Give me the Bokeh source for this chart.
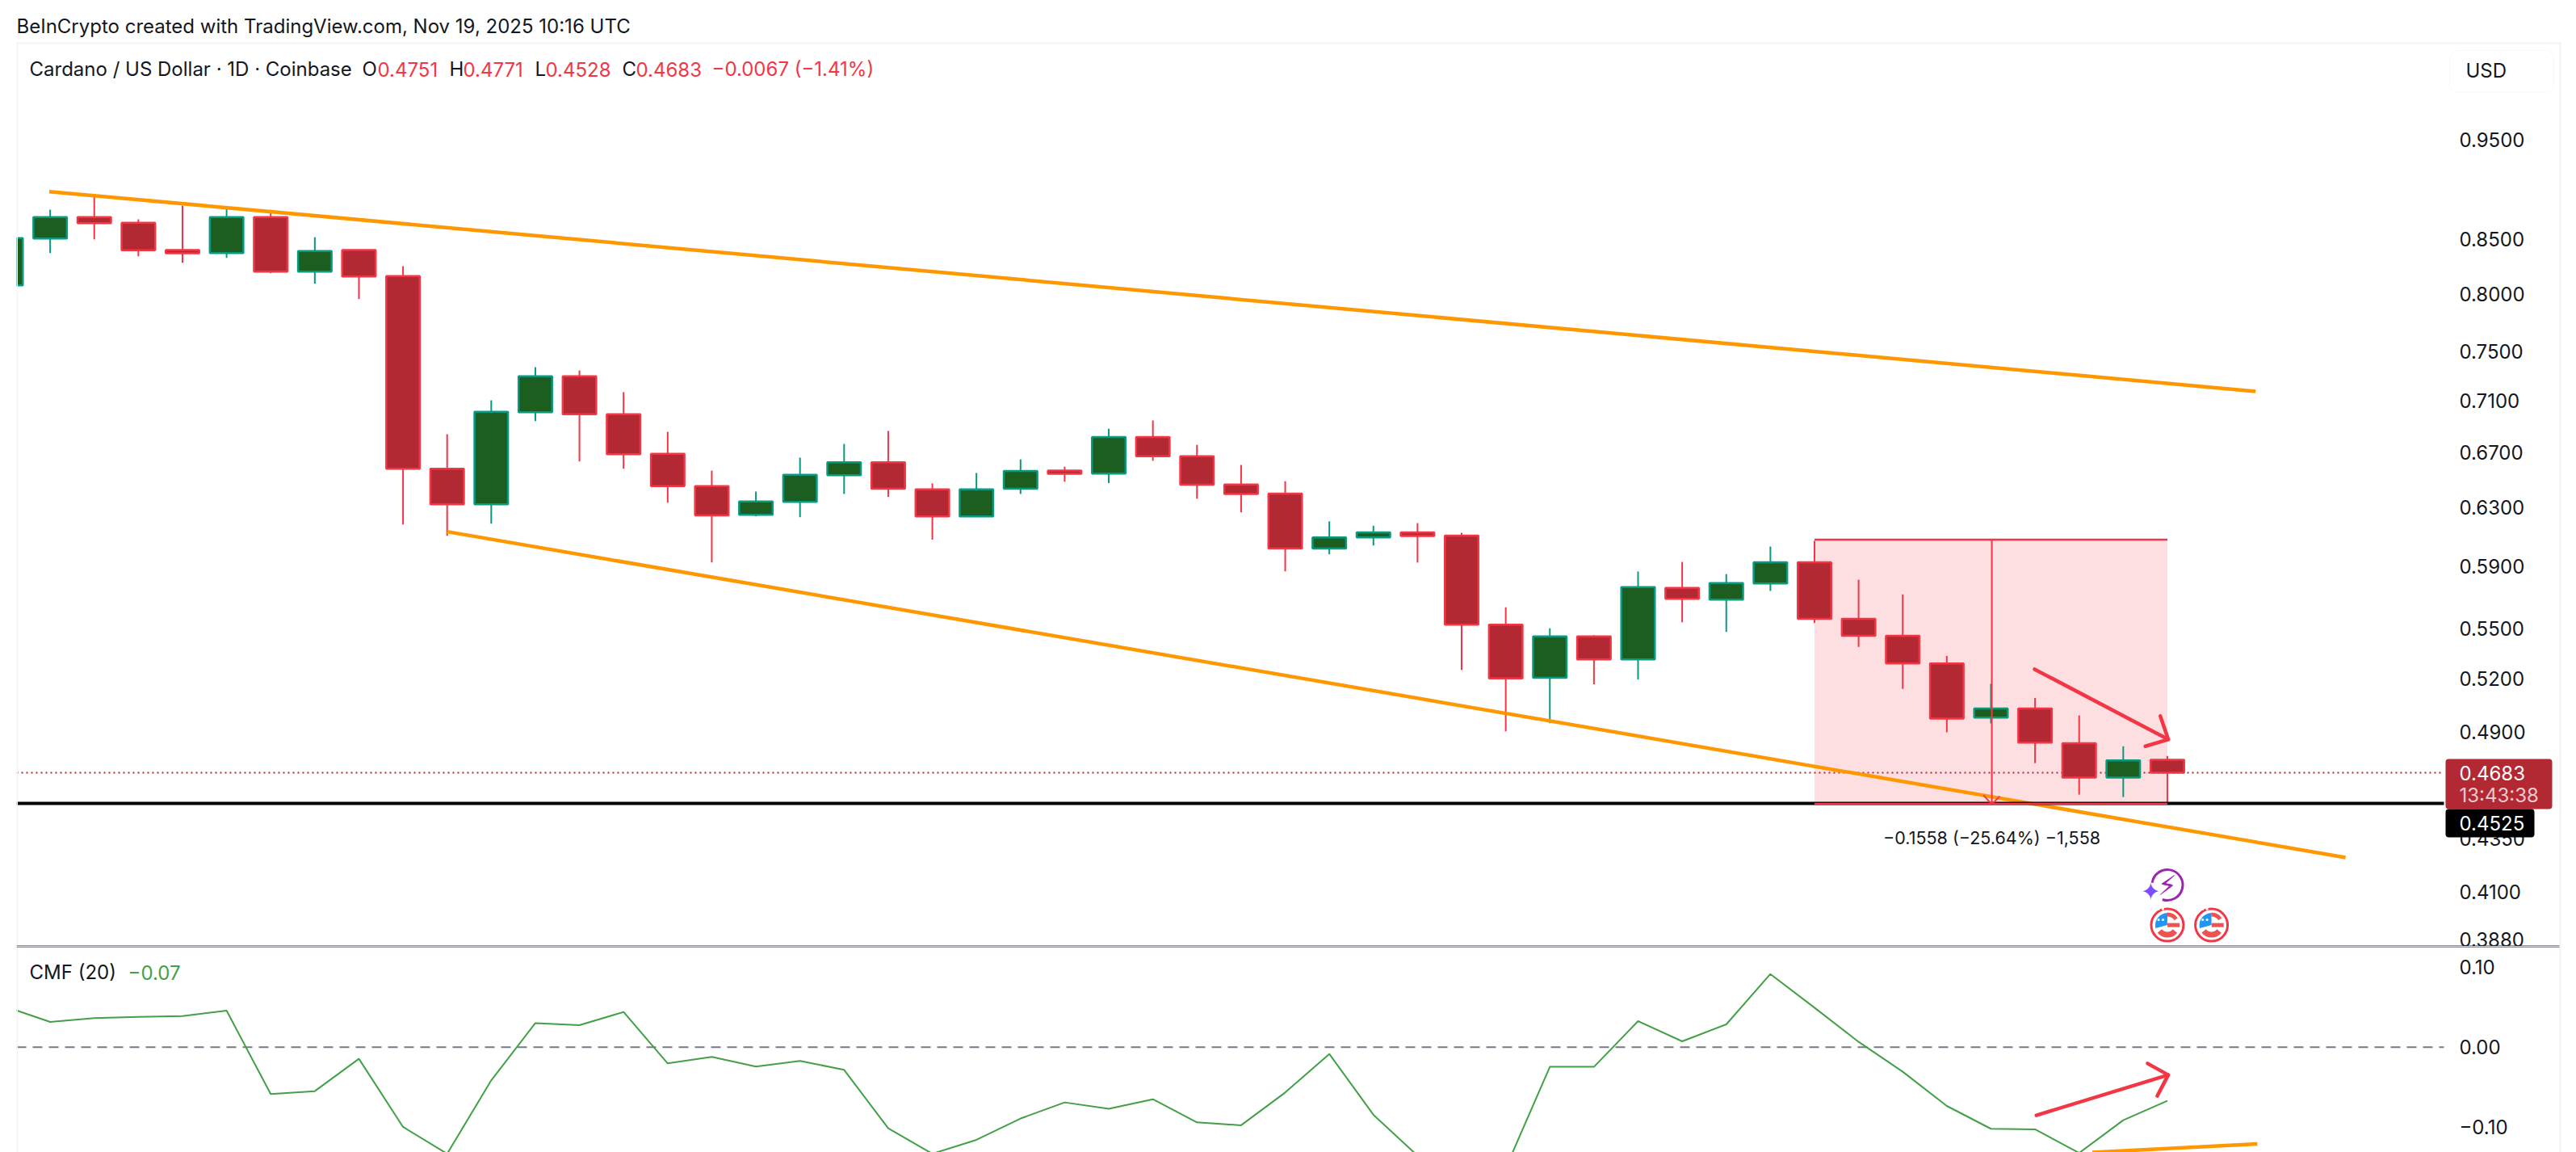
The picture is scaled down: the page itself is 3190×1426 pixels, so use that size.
"""Cardano daily candles with CMF pane, TradingView look."""
import pandas as pd

from bokeh.core.properties import value
from bokeh.embed import file_html
from bokeh.layouts import column
from bokeh.models import (BoxAnnotation, ColumnDataSource, FixedTicker, Label, Range1d)
from bokeh.plotting import figure
from bokeh.resources import INLINE

# candles, oldest first
opens = [.8075, .8510, .8715, .8660, .8400, .8372, .8715, .8200, .8400, .8159,
         .6578, .6322, .7007, .7294, .6991, .6688, .6451, .6248, .6339, .6531,
         .6626, .6428, .6237, .6432, .6564, .6543, .6816, .6671, .6463, .6398,
         .6016, .6092, .6126, .6104, .5526, .5207, .5453, .5315, .5757, .5682,
         .5786, .5925, .5562, .5457, .5291, .4980, .5031, .4839, .4657, .4751]
highs = [.8560, .8788, .8935, .8694, .8828, .8812, .8786, .8522, .8405, .8250,
         .6837, .7101, .7369, .7342, .7166, .6855, .6564, .6412, .6660, .6763,
         .6862, .6471, .6547, .6647, .6593, .6879, .6943, .6756, .6606, .6487,
         .6202, .6172, .6190, .6123, .5634, .5503, .5460, .5864, .5927, .5847,
         .6030, .6068, .5810, .5716, .5336, .5172, .5091, .4992, .4823, .4771]
lows = [.8010, .8372, .8502, .8342, .8282, .8327, .8185, .8090, .7952, .6181,
        .6103, .6186, .6938, .6632, .6578, .6333, .5924, .6237, .6231, .6395,
        .6374, .6076, .6232, .6395, .6483, .6473, .6637, .6361, .6265, .5865,
        .5978, .6037, .5923, .5253, .4904, .4949, .5169, .5197, .5540, .5481,
        .5738, .5536, .5390, .5143, .4899, .4948, .4733, .4569, .4557, .4528]
closes = [.8513, .8715, .8657, .8398, .8370, .8715, .8200, .8390, .8156, .6578,
          .6322, .7010, .7294, .6991, .6686, .6451, .6243, .6341, .6533, .6626,
          .6432, .6237, .6428, .6562, .6541, .6816, .6671, .6461, .6395, .6016,
          .6092, .6126, .6102, .5526, .5203, .5453, .5315, .5762, .5688, .5788,
          .5925, .5562, .5457, .5291, .4975, .5031, .4843, .4657, .4747, .4683]
cmf = [.0504, .0316, .0363, .0380, .0390, .0457, -.0585, -.0548, -.0144, -.0995,
       -.1330, -.0413, .0302, .0276, .0440, -.0202, -.0121, -.0242, -.0171, -.0282,
       -.1011, -.1330, -.1156, -.0890, -.0689, -.0769, -.0649, -.0938, -.0974, -.0565,
       -.0084, -.0843, -.1354, -.1600, -.1509, -.0245, -.0245, .0326, .0074, .0286,
       .0914, .0494, .0067, -.0306, -.0733, -.1018, -.1025, -.1320, -.0911, -.0669]

price_ticks = [.95, .85, .80, .75, .71, .67, .63, .59, .55, .52, .49, .435, .41, .388]
price_labels = ["0.9500", "0.8500", "0.8000", "0.7500", "0.7100", "0.6700", "0.6300",
                "0.5900", "0.5500", "0.5200", "0.4900", "0.4350", "0.4100", "0.3880"]
cmf_ticks = [.1, 0.0, -.1]
cmf_labels = ["0.10", "0.00", "\u22120.10"]

# drawings
upper_x = [.98, 51.0]
upper_y = [.8967, .7172]
lower_x = [10.0, 53.04]
lower_y = [.6131, .4259]
cmf_trend_x = [47.3, 51.04]
cmf_trend_y = [-.1313, -.1206]
support = .4525
last_close = .4683
measure_left, measure_mid, measure_right = 41, 45.02, 49
measure_top, measure_bottom = .6076, .4522
measure_head_x = [44.83, 45.02, 45.2]
measure_head_y = [.4566, .4520, .4561]
down_arrow_x = [45.99, 49.02]
down_arrow_y = [.5257, .4860]
down_head_x = [48.84, 49.02, 48.5]
down_head_y = [.4989, .4860, .4823]
up_arrow_x = [46.03, 49.02]
up_arrow_y = [-.0850, -.0346]
up_head_x = [48.55, 49.02, 48.77]
up_head_y = [-.0202, -.0346, -.0608]
flag_days = [49, 50]
flag_price = .3949
bolt_day = 49
bolt_price = .4130

GREEN, GREEN_BODY = "#089981", "#1b5e20"
RED, RED_BODY = "#f23645", "#b22833"
ORANGE = "#ff9800"
FONT = "Inter"
INK = "#131722"
FRAME = "#f0f3fa"

# the plot area runs under the price scale too, so the tags and headers are not clipped
x_start, axis_day = .238, 55.27
x_range = Range1d(x_start, 58.127)

df = pd.DataFrame({"day": range(len(opens)), "open": opens, "high": highs, "low": lows, "close": closes})
df["top"] = df[["open", "close"]].max(axis=1)
df["bottom"] = df[["open", "close"]].min(axis=1)
df["edge"] = [GREEN if c > o else RED for o, c in zip(opens, closes)]
df["fill"] = [GREEN_BODY if c > o else RED_BODY for o, c in zip(opens, closes)]
source = ColumnDataSource(df)

# price pane
p = figure(width=3182, height=1171, x_range=x_range, y_range=Range1d(.3856, 1.1105),
           y_axis_type="log", y_axis_location="right", output_backend="svg", toolbar_location=None,
           min_border_left=20, min_border_right=0, min_border_top=0, min_border_bottom=0,
           outline_line_color=None)
# cmf pane
q = figure(width=3182, height=255, x_range=x_range, y_range=Range1d(-.1313, .1259),
           y_axis_location="right", output_backend="svg", toolbar_location=None,
           min_border_left=20, min_border_right=0, min_border_top=0, min_border_bottom=0,
           outline_line_color=None)

for fig, ticks, labels in [(p, price_ticks, price_labels), (q, cmf_ticks, cmf_labels)]:
    fig.xaxis.visible = False
    fig.grid.visible = False
    ax = fig.yaxis[0]
    ax.fixed_location = axis_day
    ax.ticker = FixedTicker(ticks=ticks)
    ax.major_label_overrides = dict(zip(ticks, labels))
    ax.axis_line_color = None
    ax.major_tick_line_color = None
    ax.minor_tick_line_color = None
    ax.major_tick_out = 0
    ax.major_label_standoff = 19
    ax.major_label_text_font = FONT
    ax.major_label_text_font_size = "24px"
    ax.major_label_text_color = INK


def text(fig, s, x, y, color=INK, size="24px", align="left"):
    fig.add_layout(Label(x=x, y=y, x_units="canvas", y_units="canvas", text=s, text_color=color,
                         text_font=FONT, text_font_size=size, text_baseline="middle",
                         text_align=align))


def box(fig, left, right, top, bottom, fill, line=None, radius=0):
    fig.add_layout(BoxAnnotation(left=left, right=right, top=top, bottom=bottom,
                                 left_units="canvas", right_units="canvas",
                                 top_units="canvas", bottom_units="canvas",
                                 fill_color=fill, fill_alpha=1, line_color=line,
                                 border_radius=radius))


# measure box goes under the candles
p.quad(left=[measure_left], right=[measure_right], top=[measure_top], bottom=[measure_bottom],
       fill_color=RED, fill_alpha=.16, line_color=None)
p.line([x_start, axis_day], [last_close, last_close], line_color=RED_BODY, line_width=2, line_dash=[2, 4])

p.segment("day", "high", "day", "low", source=source, line_color="edge", line_width=2)
p.vbar("day", .76, "top", "bottom", source=source, fill_color="fill", line_color="edge", line_width=2.5)

p.line(upper_x, upper_y, line_color=ORANGE, line_width=4.5)
p.line(lower_x, lower_y, line_color=ORANGE, line_width=4.5)
p.line([x_start, axis_day], [support, support], line_color="#000000", line_width=4)

# measure tool
p.segment([measure_left, measure_left], [measure_top, measure_bottom],
          [measure_right, measure_right], [measure_top, measure_bottom], line_color=RED, line_width=2.5)
p.line([measure_mid, measure_mid], [measure_top, measure_bottom], line_color=RED, line_width=2)
p.line(measure_head_x, measure_head_y, line_color=RED, line_width=2)
p.text([measure_mid], [.4354], text=["\u22120.1558 (\u221225.64%) \u22121,558"], text_align="center",
       text_baseline="middle", text_font=value(FONT), text_font_size="21.5px", text_color=INK)

# hand drawn arrows
p.line(down_arrow_x, down_arrow_y, line_color=RED, line_width=4.5, line_cap="round")
p.line(down_head_x, down_head_y, line_color=RED, line_width=4.5, line_cap="round", line_join="round")

# event icons
p.arc([bolt_day], [bolt_price], radius=19, radius_units="screen", start_angle=-1.9, end_angle=3.0,
      direction="anticlock", line_color="#9c27b0", line_width=3)
p.text([bolt_day], [bolt_price], text=["\u26a1"], text_align="center", text_baseline="middle",
       text_font=value("DejaVu Sans"), text_font_size="34px", text_color="#9c27b0")
p.text([48.62], [.4100], text=["\u2726"], text_align="center", text_baseline="middle",
       text_font=value("DejaVu Sans"), text_font_size="30px", text_color="#7c4dff")
p.scatter(flag_days, [flag_price] * 2, size=40, fill_color="#ffffff", line_color=RED, line_width=3)
for day in flag_days:
    p.wedge([day], [flag_price], radius=15, radius_units="screen", start_angle=1.57, end_angle=3.4,
            fill_color="#2196f3", line_color=None)
    p.arc([day], [flag_price], radius=13, radius_units="screen", start_angle=.6, end_angle=1.57,
          line_color="#ef5350", line_width=5)
    p.arc([day], [flag_price], radius=12, radius_units="screen", start_angle=3.8, end_angle=5.62,
          line_color="#ef5350", line_width=7)
    p.rect([day + .14], [flag_price], width=15, height=5, width_units="screen", height_units="screen",
           fill_color="#ef5350", line_color=None)
    p.scatter([day - .2, day - .1, day - .2, day - .1], [flag_price * 1.006, flag_price * 1.006, flag_price * 1.018, flag_price * 1.018],
              size=3, fill_color="#ffffff", line_color=None)

# frame around the panes, in canvas pixels
box(p, 20, 21.5, 52, 1171, FRAME)
box(p, 20, 3171, 52, 54, FRAME)
box(p, 3169, 3171, 52, 1171, FRAME)
box(q, 20, 21.5, 0, 255, FRAME)
box(q, 3169, 3171, 0, 255, FRAME)
box(q, 20, 3169, 0, 1, "#2a2e39")
box(p, 20, 3169, 1170, 1171, "#2a2e39")

# price tags and currency button
box(p, 3033, 3162, 62, 114, "#ffffff", line="#e0e3eb", radius=10)
text(p, "USD", 3053, 87)
box(p, 3028, 3160, 939, 1001, RED_BODY, radius=4)
box(p, 3028, 3138, 1001, 1036, "#000000", radius=4)
text(p, "0.4683", 3045, 956, color="#ffffff")
text(p, "13:43:38", 3045, 984, color="#eec9cc")
text(p, "0.4525", 3045, 1018, color="#ffffff")

# headers
text(p, "BeInCrypto created with TradingView.com, Nov 19, 2025 10:16 UTC", 20, 32)
text(p, "Cardano / US Dollar \u00b7 1D \u00b7 Coinbase", 36, 85)
for s, x, c in [("O", 448, INK), ("0.4751", 467, RED), ("H", 556, INK), ("0.4771", 573, RED),
                ("L", 662, INK), ("0.4528", 675, RED), ("C", 770, INK), ("0.4683", 787, RED),
                ("\u22120.0067 (\u22121.41%)", 881, RED)]:
    text(p, s, x, 85, color=c)

# cmf
q.line([x_start, axis_day], [0, 0], line_color="#787b86", line_width=2, line_dash=[12, 8])
q.line(df["day"], cmf, line_color="#43a047", line_width=2)
q.line(cmf_trend_x, cmf_trend_y, line_color=ORANGE, line_width=4.5)
q.line(up_arrow_x, up_arrow_y, line_color=RED, line_width=4.5, line_cap="round")
q.line(up_head_x, up_head_y, line_color=RED, line_width=4.5, line_cap="round", line_join="round")
text(q, "CMF (20)", 36, 32)
text(q, "\u22120.07", 158, 32, color="#43a047")

page = column(p, q, spacing=0)
open("out.html", "w").write(file_html(page, INLINE))
